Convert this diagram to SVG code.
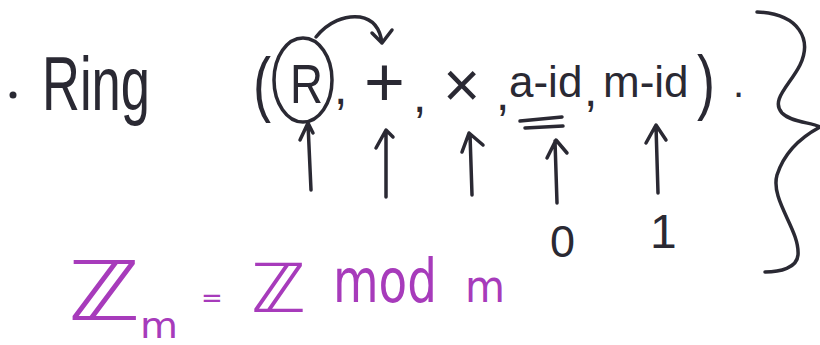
<svg xmlns="http://www.w3.org/2000/svg" width="820" height="345" viewBox="0 0 820 345">
<defs>
<style>
.ink{fill:none;stroke:#2a2933;stroke-width:3.5;stroke-linecap:round;stroke-linejoin:round}
.t{font-family:"Liberation Sans",Arial,sans-serif;fill:#2a2933}
.p{font-family:"DejaVu Sans","Liberation Sans",sans-serif;fill:#a73bbb}
</style>
</defs>
<rect width="820" height="345" fill="#ffffff"/>
<g id="title">
<circle cx="13" cy="95" r="3.5" fill="#2a2933"/>
<text class="t" x="42" y="110" font-size="76" textLength="108" lengthAdjust="spacingAndGlyphs">Ring</text>
</g>
<g id="tuple">
<text class="t" x="253" y="108" font-size="72" textLength="18" lengthAdjust="spacingAndGlyphs">(</text>
<ellipse class="ink" cx="303" cy="80" rx="29" ry="42"/>
<text class="t" x="290" y="103" font-size="56" textLength="33" lengthAdjust="spacingAndGlyphs">R</text>
<text class="t" x="334" y="104" font-size="48">,</text>
<text class="t" x="364" y="106" font-size="70">+</text>
<text class="t" x="413" y="112" font-size="48">,</text>
<text class="t" x="443" y="107" font-size="64">×</text>
<text class="t" x="496" y="110" font-size="48">,</text>
<text class="t" x="509" y="97" font-size="44">a-id</text>
<text class="t" x="584" y="106" font-size="48">,</text>
<text class="t" x="603" y="97" font-size="44">m-id</text>
<text class="t" x="697" y="106" font-size="72" textLength="18" lengthAdjust="spacingAndGlyphs">)</text>
<text class="t" x="733" y="97" font-size="40">.</text>
<path class="ink" d="M520,121 L562,117 M525,128 L563,126"/>
</g>
<g id="labels">
<text class="t" x="550" y="257" font-size="45">0</text>
<text class="t" x="650" y="248" font-size="48">1</text>
</g>
<g id="brace">
<path class="ink" d="M757,12 C800,14 812,40 800,65 C790,85 770,100 782,113 C792,123 812,122 820,127 C805,135 785,150 777,175 C770,200 800,230 798,255 C797,268 780,272 765,272"/>
</g>
<g id="connectors">
<path class="ink" d="M316,37 C328,22 345,15 360,17 C372,19 380,28 382,43 M372,33 L382,43 L392,30"/>
<path class="ink" d="M311,190 L308,124 M300,140 L308,123 L313,133"/>
<path class="ink" d="M386,197 L386,131 M376,148 L386,130 L393,137"/>
<path class="ink" d="M472,195 L470,134 M462,152 L469,133 L483,145"/>
<path class="ink" d="M557,203 L555,141 M547,158 L556,140 L567,153"/>
<path class="ink" d="M658,193 L656,126 M646,143 L656,125 L666,140"/>
</g>
<g id="formula">
<text class="p" x="68" y="320" font-size="82" textLength="72" lengthAdjust="spacingAndGlyphs">ℤ</text>
<text class="p" x="140" y="338" font-size="36" textLength="38" lengthAdjust="spacingAndGlyphs">m</text>
<text class="p" x="201" y="307" font-size="26">=</text>
<text class="p" x="251" y="312" font-size="68" textLength="55" lengthAdjust="spacingAndGlyphs">ℤ</text>
<text class="p" x="333" y="302" font-size="60" textLength="104" lengthAdjust="spacingAndGlyphs">mod</text>
<text class="p" x="465" y="302" font-size="45" textLength="40" lengthAdjust="spacingAndGlyphs">m</text>
</g>
</svg>
